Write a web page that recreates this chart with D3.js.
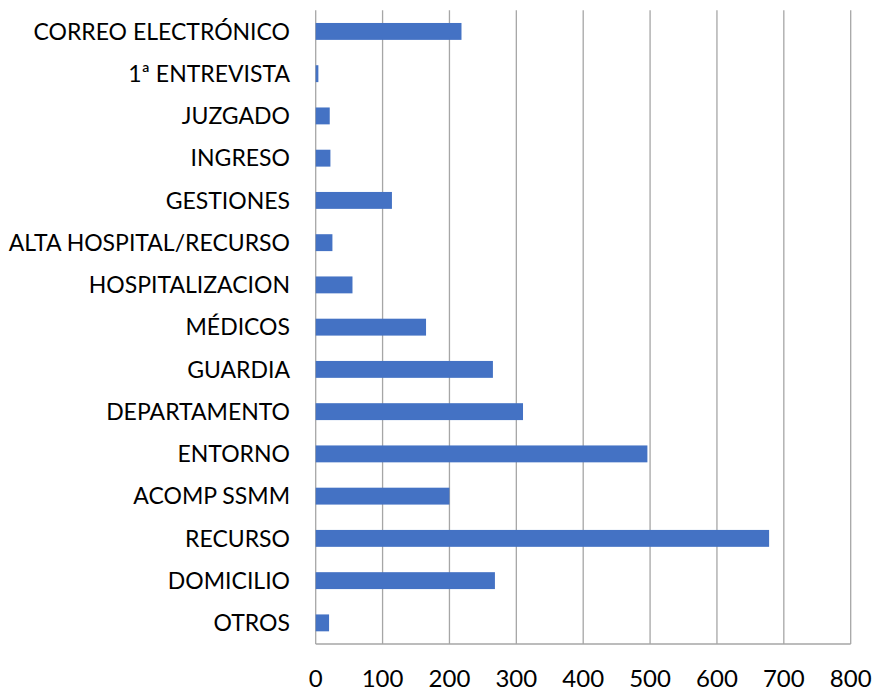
<!DOCTYPE html>
<html>
<head>
<meta charset="utf-8">
<script src="https://cdn.jsdelivr.net/npm/d3@7"></script>
<style>
  body { margin: 0; background: #fff; }
  text { font-family: Lato, "Open Sans", sans-serif; fill: #000; }
</style>
</head>
<body>
<div id="chart"></div>
<script>
var width = 875, height = 693;
var margin = {top: 10.3, right: 24.3, bottom: 49, left: 315.7};

// categories, top to bottom
var categories = [
  "CORREO ELECTRÓNICO", "1ª ENTREVISTA", "JUZGADO", "INGRESO", "GESTIONES",
  "ALTA HOSPITAL/RECURSO", "HOSPITALIZACION", "MÉDICOS", "GUARDIA",
  "DEPARTAMENTO", "ENTORNO", "ACOMP SSMM", "RECURSO", "DOMICILIO", "OTROS"
];
// values
var values = [218, 4, 21, 22, 114, 25, 55, 165, 265, 310, 496, 200, 678, 268, 20];
var xTicks = [0, 100, 200, 300, 400, 500, 600, 700, 800];

var data = categories.map(function(c, i) { return {name: c, value: values[i]}; });

var svg = d3.select("#chart")
  .append("svg")
    .attr("width", width)
    .attr("height", height);

var x = d3.scaleLinear()
  .domain([0, 800])
  .range([margin.left, width - margin.right]);

var y = d3.scaleBand()
  .domain(categories)
  .range([margin.top, height - margin.bottom])
  .paddingInner(0.6)
  .paddingOuter(0.3);

// vertical gridlines
svg.append("g")
  .selectAll("line")
  .data(xTicks)
  .join("line")
    .attr("x1", function(d) { return x(d); })
    .attr("x2", function(d) { return x(d); })
    .attr("y1", margin.top)
    .attr("y2", height - margin.bottom)
    .attr("stroke", "#a6a6a6")
    .attr("stroke-width", 1.3);

// bottom axis line
svg.append("line")
  .attr("x1", x(0))
  .attr("x2", x(800))
  .attr("y1", height - margin.bottom)
  .attr("y2", height - margin.bottom)
  .attr("stroke", "#a6a6a6")
  .attr("stroke-width", 1.3);

// bars
svg.append("g")
  .selectAll("rect")
  .data(data)
  .join("rect")
    .attr("x", x(0))
    .attr("y", function(d) { return y(d.name); })
    .attr("width", function(d) { return x(d.value) - x(0); })
    .attr("height", y.bandwidth())
    .attr("fill", "#4472c4");

// category labels
svg.append("g")
  .selectAll("text")
  .data(categories)
  .join("text")
    .attr("x", 290)
    .attr("y", function(d) { return y(d) + y.bandwidth() / 2; })
    .attr("dy", "0.36em")
    .attr("text-anchor", "end")
    .attr("font-size", 23)
    .text(function(d) { return d; });

// tick labels
svg.append("g")
  .selectAll("text")
  .data(xTicks)
  .join("text")
    .attr("x", function(d) { return x(d); })
    .attr("y", 687)
    .attr("text-anchor", "middle")
    .attr("font-size", 24)
    .text(function(d) { return d; });
</script>
</body>
</html>
